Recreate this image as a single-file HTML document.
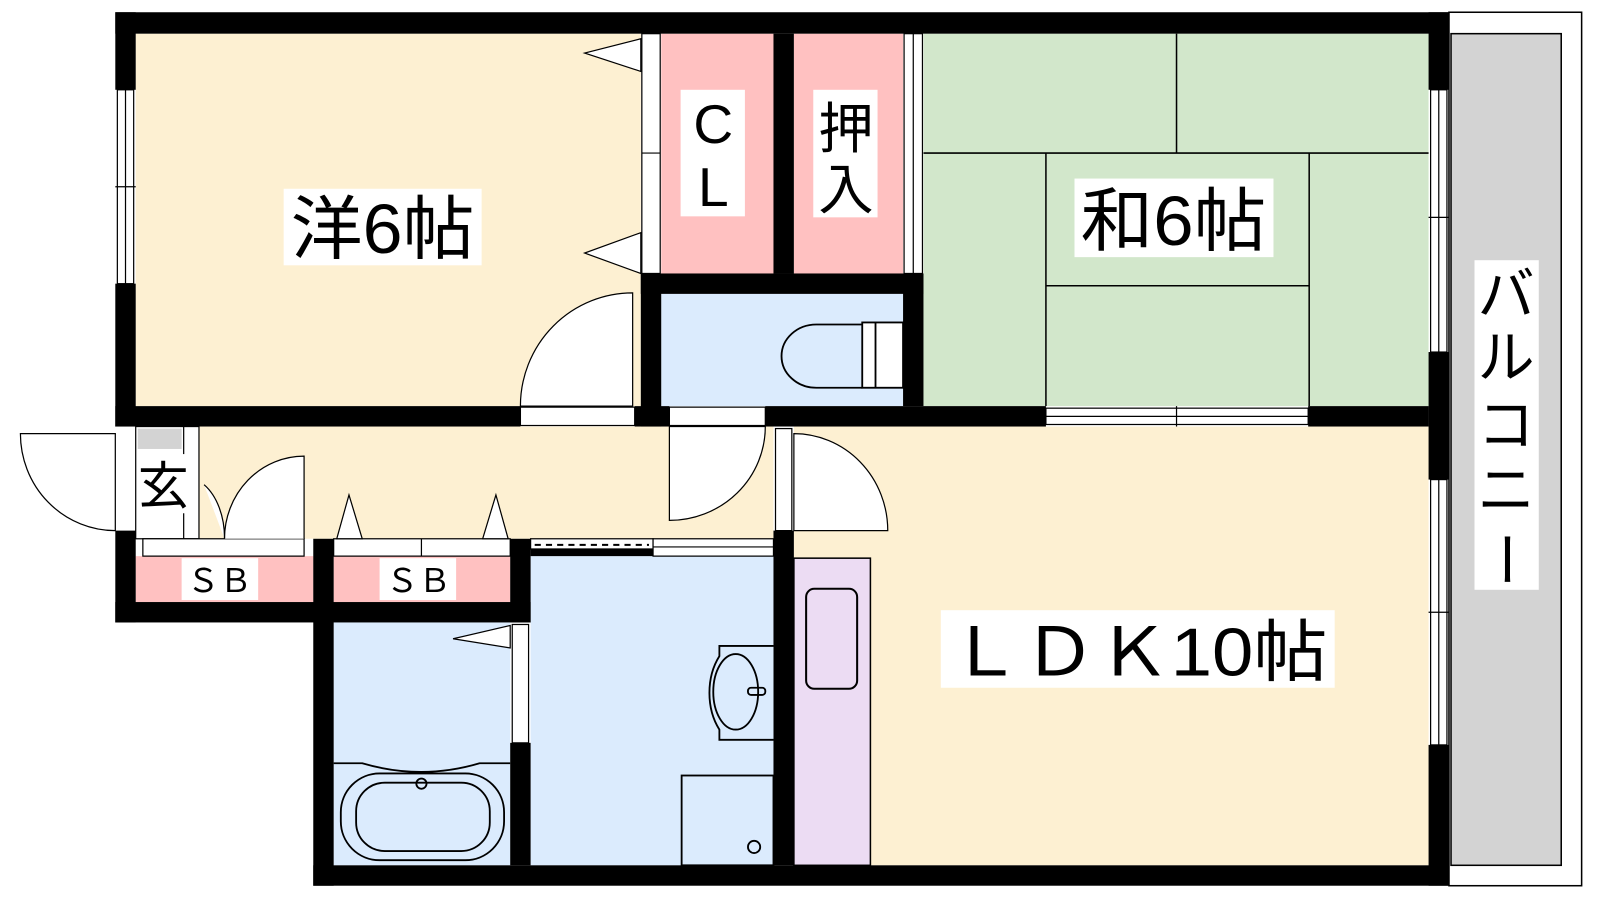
<!DOCTYPE html>
<html><head><meta charset="utf-8"><style>
html,body{margin:0;padding:0;background:#fff;width:1600px;height:900px;overflow:hidden}
svg{display:block}
text{font-family:"Liberation Sans","Noto Sans CJK JP",sans-serif;fill:#000}
</style></head><body>
<svg width="1600" height="900" viewBox="0 0 1568 882" preserveAspectRatio="none" xmlns="http://www.w3.org/2000/svg">
<!-- room fills -->
<rect x="133" y="33" width="495" height="365" fill="#fdf0d2"/>
<rect x="648" y="33" width="110" height="235" fill="#ffc1c1"/>
<rect x="778" y="33" width="107" height="235" fill="#ffc1c1"/>
<rect x="648" y="288" width="237" height="110" fill="#dbebfd"/>
<rect x="905" y="33" width="495" height="365" fill="#d2e7cb"/>
<rect x="133" y="418" width="625" height="110" fill="#fdf0d2"/>
<rect x="778" y="418" width="622" height="430" fill="#fdf0d2"/>
<rect x="133" y="545" width="174" height="45" fill="#ffc1c1"/>
<rect x="327" y="545" width="173" height="45" fill="#ffc1c1"/>
<rect x="327" y="610" width="173" height="238" fill="#dbebfd"/>
<rect x="520" y="545" width="238" height="303" fill="#dbebfd"/>
<rect x="778" y="547" width="75" height="301" fill="#ecdcf3" stroke="#000" stroke-width="1.5"/>
<rect x="790" y="577" width="50" height="98" rx="8" fill="none" stroke="#000" stroke-width="2"/>
<!-- balcony -->
<rect x="1420" y="12" width="130" height="856" fill="#fff" stroke="#000" stroke-width="1.5"/>
<rect x="1422" y="33" width="108" height="815" fill="#d3d3d3" stroke="#000" stroke-width="1.5"/>
<!-- tatami lines -->
<g stroke="#000" stroke-width="1.5">
<line x1="905" y1="150" x2="1400" y2="150"/>
<line x1="1153" y1="33" x2="1153" y2="150"/>
<line x1="1025" y1="150" x2="1025" y2="398"/>
<line x1="1283" y1="150" x2="1283" y2="398"/>
<line x1="1025" y1="280" x2="1283" y2="280"/>
</g>
<!-- walls -->
<g fill="#000">
<rect x="113" y="12" width="1307" height="21"/>
<rect x="113" y="12" width="20" height="76"/>
<rect x="113" y="278" width="20" height="140"/>
<rect x="113" y="520" width="20" height="90"/>
<rect x="1400" y="12" width="20" height="76"/>
<rect x="1400" y="345" width="20" height="125"/>
<rect x="1400" y="730" width="20" height="138"/>
<rect x="307" y="848" width="1113" height="20"/>
<rect x="113" y="398" width="397" height="20"/>
<rect x="622" y="398" width="34" height="20"/>
<rect x="750" y="398" width="275" height="20"/>
<rect x="1282" y="398" width="118" height="20"/>
<rect x="628" y="268" width="20" height="150"/>
<rect x="758" y="33" width="20" height="235"/>
<rect x="628" y="268" width="277" height="20"/>
<rect x="885" y="268" width="20" height="130"/>
<rect x="113" y="590" width="407" height="20"/>
<rect x="307" y="528" width="20" height="340"/>
<rect x="500" y="528" width="20" height="82"/>
<rect x="500" y="728" width="20" height="120"/>
<rect x="758" y="520" width="20" height="328"/>
<rect x="520" y="538" width="120" height="7"/>
</g>
<!-- windows -->
<g fill="#fff" stroke="#000" stroke-width="1.2">
<rect x="115" y="88" width="16" height="190"/><line x1="123" y1="88" x2="123" y2="278"/><line x1="113" y1="183" x2="133" y2="183"/>
<rect x="1402" y="88" width="16" height="257"/><line x1="1410" y1="88" x2="1410" y2="345"/><line x1="1400" y1="213" x2="1420" y2="213"/>
<rect x="1402" y="470" width="16" height="260"/><line x1="1410" y1="470" x2="1410" y2="730"/><line x1="1400" y1="600" x2="1420" y2="600"/>
<rect x="1025" y="400" width="257" height="16"/><line x1="1025" y1="408" x2="1282" y2="408"/><line x1="1153" y1="398" x2="1153" y2="418"/>
<!-- closet doors -->
<rect x="629" y="33" width="18" height="235"/><line x1="629" y1="150" x2="647" y2="150"/>
<rect x="886" y="33" width="18" height="235"/><line x1="895" y1="33" x2="895" y2="268"/>
<polygon points="628,38 573,52 628,70"/>
<polygon points="628,228 573,248 628,268"/>
<!-- doors -->
<rect x="510" y="399" width="112" height="18"/>
<path d="M620,398 L620,287 A110,111 0 0 0 510,398 Z"/>
<rect x="656" y="399" width="94" height="18"/>
<path d="M656,418 L656,510 A94,92 0 0 0 750,418 Z"/>
<rect x="760" y="420" width="16" height="100"/>
<path d="M778,520 L870,520 A92,95 0 0 0 778,425 Z"/>
<path d="M113,425 L20,425 A93,95 0 0 0 113,520 Z"/>
<rect x="133" y="418" width="62" height="110"/>
<line x1="180" y1="418" x2="180" y2="528"/>
<rect x="140" y="528" width="158" height="17"/>
<rect x="327" y="528" width="173" height="17"/><line x1="413" y1="528" x2="413" y2="545"/>
<path d="M298,528 L298,447 A78,81 0 0 0 220,528"/>
<path d="M200,475 A40,60 0 0 1 220,528"/>
<polygon points="330,528 342,485 355,528"/>
<polygon points="473,528 486,485 498,528"/>
<rect x="502" y="612" width="16" height="116"/>
<polygon points="500,613 444,626 500,635"/>
<rect x="520" y="528" width="120" height="10"/>
<rect x="640" y="528" width="118" height="17"/><line x1="640" y1="536" x2="758" y2="536"/>
</g>
<line x1="524" y1="534" x2="636" y2="534" stroke="#000" stroke-width="2" stroke-dasharray="6,5"/>
<rect x="135" y="420" width="43" height="20" fill="#d3d3d3"/>
<!-- toilet -->
<g fill="none" stroke="#000" stroke-width="1.8">
<path d="M845,318 L800,318 A33,30 0 0 0 800,380 L845,380"/>
<rect x="845" y="316" width="40" height="64" fill="#fff"/>
<line x1="858" y1="316" x2="858" y2="380"/>
<!-- basin -->
<path d="M758,633 L705,633 L705,643 A40,55 0 0 0 705,715 L705,725 L758,725" fill="#dbebfd"/>
<ellipse cx="721" cy="678" rx="22" ry="37"/>
<rect x="733" y="674" width="17" height="7" rx="3"/>
<!-- washer -->
<rect x="668" y="760" width="90" height="88"/>
<circle cx="739" cy="830" r="6"/>
<!-- bath -->
<path d="M327,748 L355,748 Q413,765 470,748 L500,748"/>
<rect x="334" y="758" width="160" height="85" rx="38"/>
<rect x="349" y="767" width="131" height="67" rx="28"/>
<circle cx="413" cy="768" r="5"/>
</g>
<!-- labels -->
<rect x="278" y="185" width="194" height="75" fill="#fff"/>
<text x="375" y="248" font-size="68" text-anchor="middle" textLength="180" lengthAdjust="spacingAndGlyphs">洋6帖</text>
<rect x="667" y="88" width="63" height="124" fill="#fff"/>
<text x="699" y="140" font-size="54" text-anchor="middle">C</text>
<text x="699" y="202" font-size="54" text-anchor="middle">L</text>
<rect x="797" y="88" width="63" height="125" fill="#fff"/>
<text x="829" y="145" font-size="54" text-anchor="middle">押</text>
<text x="829" y="205" font-size="54" text-anchor="middle">入</text>
<rect x="1053" y="175" width="195" height="77" fill="#fff"/>
<text x="1150" y="240" font-size="68" text-anchor="middle" textLength="182" lengthAdjust="spacingAndGlyphs">和6帖</text>
<rect x="922" y="598" width="386" height="76" fill="#fff"/>
<text x="1115" y="662" font-size="66" text-anchor="middle" textLength="372" lengthAdjust="spacingAndGlyphs">ＬＤＫ10帖</text>
<rect x="1445" y="255" width="63" height="323" fill="#fff"/>
<text x="1476" y="308" font-size="56" text-anchor="middle">バ</text>
<text x="1476" y="370" font-size="56" text-anchor="middle">ル</text>
<text x="1476" y="436" font-size="56" text-anchor="middle">コ</text>
<text x="1476" y="500" font-size="56" text-anchor="middle">ニ</text>
<text x="1476" y="568" font-size="56" text-anchor="middle" transform="rotate(90 1476 548)">ー</text>
<rect x="135" y="445" width="52" height="58" fill="#fff"/>
<text x="160" y="494" font-size="50" text-anchor="middle">玄</text>
<rect x="178" y="547" width="75" height="41" fill="#fff"/>
<text x="215" y="580" font-size="32" text-anchor="middle">ＳＢ</text>
<rect x="372" y="547" width="75" height="41" fill="#fff"/>
<text x="410" y="580" font-size="32" text-anchor="middle">ＳＢ</text>
</svg>
</body></html>
